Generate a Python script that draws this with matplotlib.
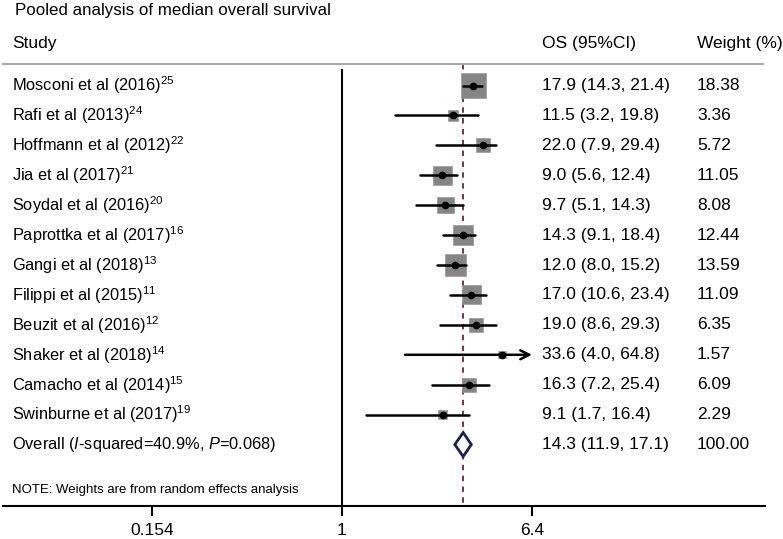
import matplotlib
matplotlib.use("Agg")
import matplotlib.pyplot as plt
import matplotlib.transforms as mtransforms
import numpy as np

plt.rcParams["font.family"] = ["Liberation Sans", "DejaVu Sans"]
plt.rcParams["mathtext.fontset"] = "custom"
plt.rcParams["mathtext.rm"] = "Liberation Sans"
plt.rcParams["mathtext.it"] = "Liberation Sans:italic"

# ─── Data ────────────────────────────────────────────────────
studies = ["Mosconi et al (2016)", "Rafi et al (2013)", "Hoffmann et al (2012)",
           "Jia et al (2017)", "Soydal et al (2016)", "Paprottka et al (2017)",
           "Gangi et al (2018)", "Filippi et al (2015)", "Beuzit et al (2016)",
           "Shaker et al (2018)", "Camacho et al (2014)", "Swinburne et al (2017)"]
refs    = [25, 24, 22, 21, 20, 16, 13, 11, 12, 14, 15, 19]
os_med  = [17.9, 11.5, 22.0, 9.0, 9.7, 14.3, 12.0, 17.0, 19.0, 33.6, 16.3, 9.1]
ci_lo   = [14.3, 3.2, 7.9, 5.6, 5.1, 9.1, 8.0, 10.6, 8.6, 4.0, 7.2, 1.7]
ci_hi   = [21.4, 19.8, 29.4, 12.4, 14.3, 18.4, 15.2, 23.4, 29.3, 64.8, 25.4, 16.4]
weights = [18.38, 3.36, 5.72, 11.05, 8.08, 12.44, 13.59, 11.09, 6.35, 1.57, 6.09, 2.29]

overall_os = 14.3
overall_lo = 11.9
overall_hi = 17.1
overall_wt = 100.00
i_squared  = 40.9
p_het      = 0.068

x_limit   = 64.8                      # symmetric axis bound (log scale)
tick_vals = [1 / x_limit, 1, x_limit]
tick_labs = ["0.154", "1", "6.4"]

# ─── Layout ──────────────────────────────────────────────────
W, H = 783, 539
fig = plt.figure(figsize=(W / 100, H / 100), dpi=100)

ax_left, ax_right = 3, 765          # px
ax_top, ax_bot = 20, 506            # px
ax = fig.add_axes([ax_left / W, 1 - ax_bot / H,
                   (ax_right - ax_left) / W, (ax_bot - ax_top) / H])

row0, row_h = 85.5, 29.92
def px2row(py):
    return (py - row0) / row_h

ax.set_xscale("log")
px_per_ln = 190 / np.log(x_limit)
ax.set_xlim(np.exp((ax_left - 342) / px_per_ln), np.exp((ax_right - 342) / px_per_ln))
ax.set_ylim(px2row(ax_bot), px2row(ax_top))

for s in ["top", "left", "right"]:
    ax.spines[s].set_visible(False)
ax.spines["bottom"].set_linewidth(1.5)
ax.set_yticks([])
ax.set_xticks(tick_vals)
ax.set_xticklabels(tick_labs)
ax.minorticks_off()
ax.tick_params(axis="x", length=7, width=1.5, labelsize=12.5, pad=5)

n = len(studies)
rows = np.arange(n)

# reference lines
ax.plot([1, 1], [px2row(70), px2row(ax_bot)], color="black", lw=1.5, zorder=1)
ax.plot([overall_os, overall_os], [px2row(64), px2row(ax_bot)], color="#7a1c35",
        lw=1.3, ls=(0, (3, 3)), zorder=1)

# study estimates
ax.scatter(os_med, rows, marker="s", s=np.array(weights) * 17.0,
           color="#858585", edgecolors="#9a9a9a", linewidths=0.5, zorder=2)
for i in range(n):
    if ci_hi[i] >= x_limit:
        ax.annotate("", xy=(ci_hi[i], rows[i]), xytext=(ci_lo[i], rows[i]),
                    arrowprops=dict(arrowstyle="->", lw=1.8, color="black",
                                    shrinkA=0, shrinkB=0, mutation_scale=16),
                    zorder=3)
    else:
        ax.plot([ci_lo[i], ci_hi[i]], [rows[i], rows[i]], color="black",
                lw=1.8, solid_capstyle="round", zorder=3)
ax.plot(os_med, rows, "o", color="black", ms=4.5, zorder=4)

# pooled diamond
yo = n
ax.fill([overall_lo, overall_os, overall_hi, overall_os],
        [yo, yo - 0.4, yo, yo + 0.4], facecolor="white",
        edgecolor="#1c1f5a", lw=2.0, zorder=4)

# ─── Text columns ────────────────────────────────────────────
trans = mtransforms.blended_transform_factory(ax.transAxes, ax.transData)
def fx(px):
    return (px - ax_left) / (ax_right - ax_left)

fs = 12.5
fs_study = 11.8
x_study, x_os, x_wt = fx(12), fx(542), fx(697)

fig.text(15 / W, 1 - 10 / H, "Pooled analysis of median overall survival",
         fontsize=12.2, va="center", ha="left")
ax.text(x_study, px2row(43), "Study", transform=trans, fontsize=fs, va="center")
ax.text(x_os, px2row(43), "OS (95%CI)", transform=trans, fontsize=fs, va="center")
ax.text(x_wt, px2row(43), "Weight (%)", transform=trans, fontsize=fs, va="center")
ax.plot([0, fx(763)], [px2row(63.5)] * 2, transform=trans, color="#a8a8a8",
        lw=1.5, clip_on=False)

for i in range(n):
    ax.text(x_study, rows[i], f"{studies[i]}$^{{{refs[i]}}}$", transform=trans,
            fontsize=fs_study, va="center")
    ax.text(x_os, rows[i], f"{os_med[i]:.1f} ({ci_lo[i]:.1f}, {ci_hi[i]:.1f})",
            transform=trans, fontsize=fs, va="center")
    ax.text(x_wt, rows[i], f"{weights[i]:.2f}", transform=trans,
            fontsize=fs, va="center")

ax.text(x_study, yo, f"Overall ($I$-squared={i_squared:.1f}%, $P$={p_het:.3f})",
        transform=trans, fontsize=fs_study, va="center")
ax.text(x_os, yo, f"{overall_os:.1f} ({overall_lo:.1f}, {overall_hi:.1f})",
        transform=trans, fontsize=fs, va="center")
ax.text(x_wt, yo, f"{overall_wt:.2f}", transform=trans, fontsize=fs, va="center")

ax.text(x_study, px2row(490), "NOTE: Weights are from random effects analysis",
        transform=trans, fontsize=9.5, va="center")

plt.savefig("out.png", dpi=100)
plt.close()
